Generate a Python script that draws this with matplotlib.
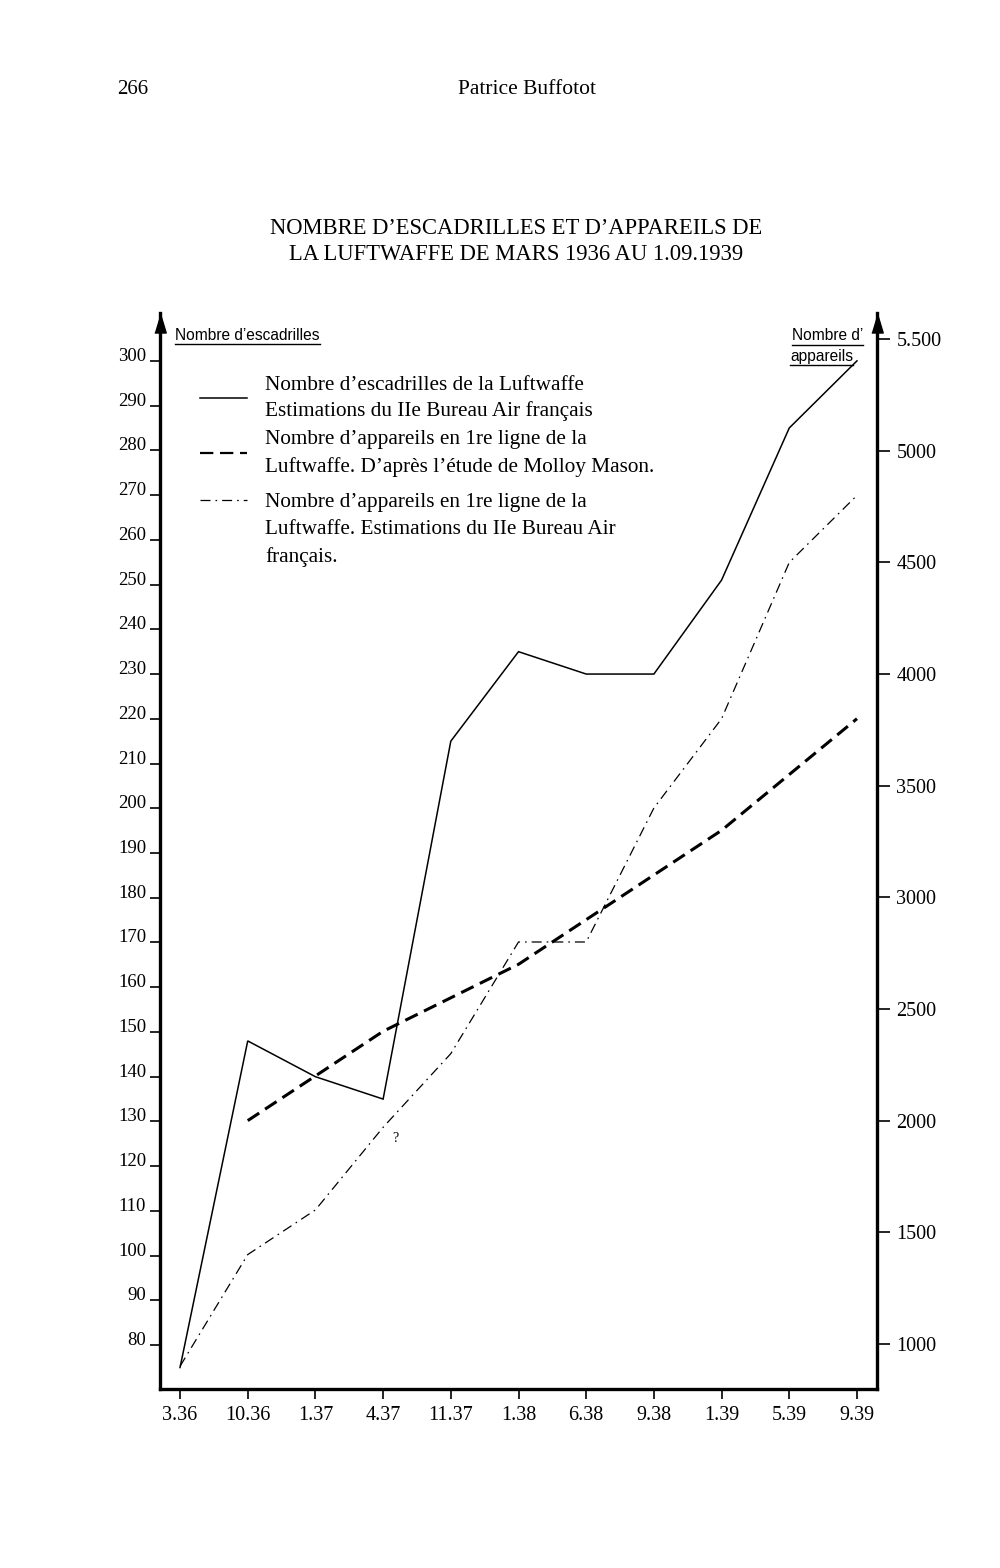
import matplotlib
matplotlib.use("Agg")
import matplotlib.pyplot as plt
from matplotlib.lines import Line2D

plt.rcParams['font.family'] = ['Liberation Serif', 'DejaVu Serif']

# dates on the x axis (month.year)
dates = ["3.36", "10.36", "1.37", "4.37", "11.37", "1.38", "6.38",
         "9.38", "1.39", "5.39", "9.39"]

# Nombre d'escadrilles (left axis)
escadrilles = [75, 148, 140, 135, 215, 235, 230, 230, 251, 285, 300]

# appareils, Molloy Mason (right axis), starts at 10.36
mason_dates = dates[1:]
mason = [2000, 2200, 2400, 2550, 2700, 2900, 3100, 3300, 3550, 3800]

# appareils, IIe Bureau (right axis)
bureau = [900, 1400, 1600, 1970, 2300, 2800, 2800, 3400, 3800, 4500, 4800]

left_ticks = list(range(80, 301, 10))
right_ticks = [1000, 1500, 2000, 2500, 3000, 3500, 4000, 4500, 5000, 5500]
right_labels = ["1000", "1500", "2000", "2500", "3000", "3500", "4000",
                "4500", "5000", "5.500"]

W, H = 1000, 1568
fig = plt.figure(figsize=(W / 100, H / 100), dpi=100)


def fy(px):
    return 1 - px / H


def fx(px):
    return px / W


ax = fig.add_axes([fx(160), fy(1389), fx(877) - fx(160), (1389 - 313) / H])
ax2 = ax.twinx()

x = list(range(len(dates)))
xm = [dates.index(d) for d in mason_dates]

ax.plot(x, escadrilles, color='black', lw=1.1, solid_joinstyle='miter')
ax2.plot(xm, mason, color='black', lw=2.2, dashes=(4.5, 2.3))
ax2.plot(x, bureau, color='black', lw=0.9, dashes=(8, 4, 1.3, 4))
ax2.annotate("?", xy=(3, bureau[3]), xytext=(9, -8), textcoords='offset points',
             fontsize=10, ha='center', va='center')

ax.set_xlim(-0.296, 10.296)
ax.set_ylim(70.2, 310.7)
ax2.set_ylim(798, 5617)

ax.set_xticks(x)
ax.set_xticklabels(dates, fontsize=14.5)
ax.set_yticks(left_ticks)
ax.set_yticklabels([str(v) for v in left_ticks], fontsize=13.5)
ax2.set_yticks(right_ticks)
ax2.set_yticklabels(right_labels, fontsize=14.5)

ax.tick_params(axis='x', direction='out', length=7, width=1.2, pad=5)
ax.tick_params(axis='y', direction='out', length=7, width=1.2, pad=3)
ax2.tick_params(axis='y', direction='out', length=9, width=1.2, pad=5)

for lab in ax.get_yticklabels():
    lab.set_va('baseline')

for s in ['top', 'right']:
    ax.spines[s].set_visible(False)
for s in ['top', 'left', 'bottom']:
    ax2.spines[s].set_visible(False)
ax.spines['left'].set_linewidth(2.4)
ax.spines['bottom'].set_linewidth(2.4)
ax2.spines['right'].set_linewidth(2.4)

# arrow heads on top of both vertical axes
head = [(-0.6, -1), (0.6, -1), (0, 1)]
for xa in (0, 1):
    ax.plot([xa], [1 - 9.5 / 1076], marker=head, ms=13.7, color='black',
            transform=ax.transAxes, clip_on=False)

# header
fig.text(fx(117), fy(90), "266", fontsize=15, va='center', ha='left')
fig.text(fx(527), fy(90), "Patrice Buffotot", fontsize=15.5, va='center', ha='center')

# title
fig.text(fx(516), fy(228), "NOMBRE D’ESCADRILLES ET D’APPAREILS DE",
         fontsize=16.3, ha='center', va='center')
fig.text(fx(516), fy(255), "LA LUFTWAFFE DE MARS 1936 AU 1.09.1939",
         fontsize=16.3, ha='center', va='center')

# axis names, underlined
axis_names = [
    (175, 335, "Nombre d’escadrilles"),
    (792, 336, "Nombre d’"),
    (790, 356, "appareils"),
]
name_texts = []
for px, py, s in axis_names:
    t = fig.text(fx(px), fy(py), s, fontsize=11.2, family='Liberation Sans',
                 ha='left', va='center')
    name_texts.append(t)

# legend
legend_lines = [
    (385, "Nombre d’escadrilles de la Luftwaffe"),
    (411, "Estimations du IIe Bureau Air français"),
    (440, "Nombre d’appareils en 1re ligne de la"),
    (467, "Luftwaffe. D’après l’étude de Molloy Mason."),
    (503, "Nombre d’appareils en 1re ligne de la"),
    (530, "Luftwaffe. Estimations du IIe Bureau Air"),
    (557, "français."),
]
for py, s in legend_lines:
    fig.text(fx(265), fy(py), s, fontsize=15.3, ha='left', va='center')

fig.add_artist(Line2D([fx(200), fx(247)], [fy(398), fy(398)], color='black', lw=1.1))
fig.add_artist(Line2D([fx(200), fx(247)], [fy(453), fy(453)], color='black', lw=1.6,
                      dashes=(6, 3)))
fig.add_artist(Line2D([fx(200), fx(247)], [fy(500), fy(500)], color='black', lw=0.9,
                      dashes=(8, 4, 1.3, 4)))

# underlines below the axis names
fig.canvas.draw()
r = fig.canvas.get_renderer()
for t in name_texts:
    bb = t.get_window_extent(r)
    yb = bb.y0 - 1.5
    fig.add_artist(Line2D([bb.x0 / W, bb.x1 / W], [yb / H, yb / H],
                          color='black', lw=1.0))

fig.savefig("out.png", dpi=100)
